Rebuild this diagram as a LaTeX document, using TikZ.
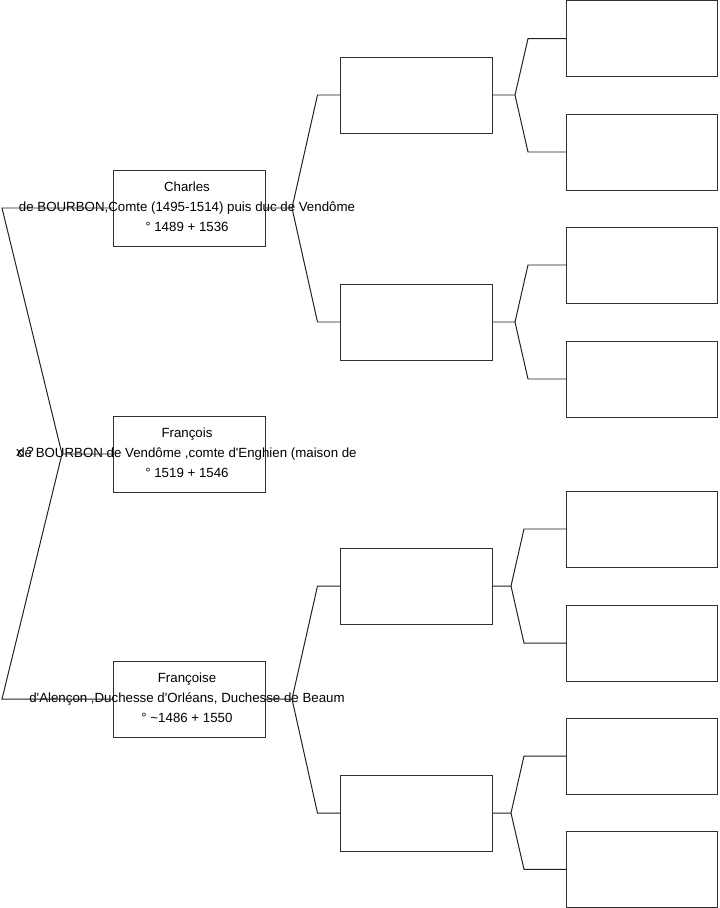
\documentclass[tikz,border=0pt]{standalone}
\usepackage{fontspec}
\setmainfont{Liberation Sans}[Ligatures=TeXOff]
\usepackage{tikz}
\usetikzlibrary{positioning,calc}
\definecolor{boxGray}{HTML}{303030}
\definecolor{linkGray}{HTML}{202020}

\begin{document}
\begin{tikzpicture}[x=0.025cm, y=-0.025cm,
  font=\fontsize{9.45}{14.2}\selectfont,
  pbox/.style={rectangle,draw=boxGray,line width=0.7pt,minimum width=3.775cm,minimum height=1.9cm,inner sep=0pt},
  ptext/.style={align=center,inner sep=0pt},
  link/.style={draw=linkGray,line width=0.7pt}]
\useasboundingbox (0,0) rectangle (719,908);
% generation 1: the three persons
\node[pbox] (c1) at (189.5,208) {};
\node[pbox] (c2) at (189.5,454) {};
\node[pbox] (c3) at (189.5,699) {};
\node[ptext] (t1) at (187,207) {Charles\\de BOURBON,Comte (1495-1514) puis duc de Vendôme\\° 1489 + 1536};
\node[ptext] (t2) at (187,453) {François\\de BOURBON de Vendôme ,comte d'Enghien (maison de\\° 1519 + 1546};
\node[ptext] (t3) at (187,698) {Françoise\\d'Alençon ,Duchesse d'Orléans, Duchesse de Beaum\\° \textasciitilde1486 + 1550};
\node[ptext] (xm) at (25,452) {x ?};
% fork joining the three
\coordinate (f0) at (62,454);
\coordinate (e1) at (2,208);
\coordinate (e3) at (2,699);
\draw[link] (c1.west) -- (e1) -- (f0) -- (c2.west);
\draw[link] (f0) -- (e3) -- (c3.west);
% generation 2: parents
\node[pbox] (p1) at (416.5,95) {};
\node[pbox] (p2) at (416.5,322) {};
\node[pbox] (p3) at (416.5,586) {};
\node[pbox] (p4) at (416.5,813) {};
\coordinate (f1) at (292,208);
\coordinate (f3) at (292,699);
\draw[link] (c1.east) -- (f1) -- ($(p1.west)+(-23,0)$) -- (p1.west);
\draw[link] (f1) -- ($(p2.west)+(-23,0)$) -- (p2.west);
\draw[link] (c3.east) -- (f3) -- ($(p3.west)+(-23,0)$) -- (p3.west);
\draw[link] (f3) -- ($(p4.west)+(-23,0)$) -- (p4.west);
% generation 3: grandparents
\foreach \i/\y in {1/38.7,2/152,3/265,4/379,5/529,6/643,7/756,8/869.3}
  \node[pbox] (g\i) at (642,\y) {};
\coordinate (h1) at (515,95);
\coordinate (h2) at (515,322);
\coordinate (h3) at (511,586);
\coordinate (h4) at (511,813);
\draw[link] (p1.east) -- (h1) -- ($(g1.west)+(-38,0)$) -- (g1.west);
\draw[link] (h1) -- ($(g2.west)+(-38,0)$) -- (g2.west);
\draw[link] (p2.east) -- (h2) -- ($(g3.west)+(-38,0)$) -- (g3.west);
\draw[link] (h2) -- ($(g4.west)+(-38,0)$) -- (g4.west);
\draw[link] (p3.east) -- (h3) -- ($(g5.west)+(-42,0)$) -- (g5.west);
\draw[link] (h3) -- ($(g6.west)+(-42,0)$) -- (g6.west);
\draw[link] (p4.east) -- (h4) -- ($(g7.west)+(-42,0)$) -- (g7.west);
\draw[link] (h4) -- ($(g8.west)+(-42,0)$) -- (g8.west);
\end{tikzpicture}
\end{document}
